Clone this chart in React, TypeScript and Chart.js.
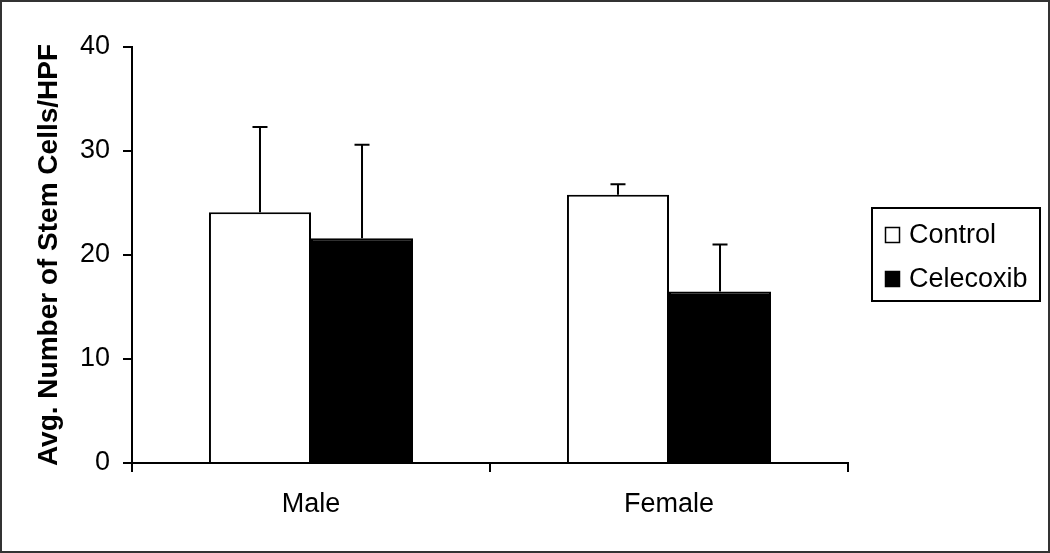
import React, { useEffect, useRef } from "react";
import { Chart, registerables } from "chart.js";

Chart.register(...registerables);

const categories = ["Male", "Female"];
const seriesNames = ["Control", "Celecoxib"];
const controlValues = [24.1, 25.8];
const celecoxibValues = [21.6, 16.5];
const controlErrors = [8.2, 1.0];
const celecoxibErrors = [9.0, 4.5];
const yTicks = [0, 10, 20, 30, 40];
const yTitle = "Avg. Number of Stem Cells/HPF";

const FONT = "'Liberation Sans', Arial, Helvetica, sans-serif";
const errorSets = [controlErrors, celecoxibErrors];

const framePlugin = {
  id: "frame",
  beforeDraw(chart: any) {
    const { ctx, width, height } = chart;
    ctx.save();
    ctx.fillStyle = "#fff";
    ctx.fillRect(0, 0, width, height);
    ctx.restore();
  },
  afterDraw(chart: any) {
    const { ctx, width, height } = chart;
    ctx.save();
    ctx.strokeStyle = "#333";
    ctx.lineWidth = 2;
    ctx.strokeRect(1, 1, width - 2, height - 2);
    ctx.restore();
  },
};

const errorBarPlugin = {
  id: "errorBars",
  afterDatasetsDraw(chart: any) {
    const { ctx } = chart;
    const yScale = chart.scales.y;
    ctx.save();
    ctx.strokeStyle = "#000";
    ctx.lineWidth = 2;
    chart.data.datasets.forEach((ds: any, i: number) => {
      const meta = chart.getDatasetMeta(i);
      const errs = errorSets[i];
      meta.data.forEach((bar: any, j: number) => {
        const top = yScale.getPixelForValue(ds.data[j] + errs[j]);
        ctx.beginPath();
        ctx.moveTo(bar.x, bar.y);
        ctx.lineTo(bar.x, top);
        ctx.moveTo(bar.x - 7.5, top);
        ctx.lineTo(bar.x + 7.5, top);
        ctx.stroke();
      });
    });
    ctx.restore();
  },
};

const legendPlugin = {
  id: "boxLegend",
  afterDraw(chart: any) {
    const { ctx } = chart;
    ctx.save();
    ctx.strokeStyle = "#000";
    ctx.lineWidth = 2;
    ctx.strokeRect(872, 208, 168, 93);
    const rows = [235, 279];
    chart.data.datasets.forEach((ds: any, i: number) => {
      const cy = rows[i];
      ctx.fillStyle = ds.backgroundColor;
      ctx.fillRect(885, cy - 8, 15, 16);
      ctx.lineWidth = 1.5;
      ctx.strokeStyle = "#000";
      ctx.strokeRect(885.5, cy - 7.5, 14, 15);
      ctx.fillStyle = "#000";
      ctx.font = `27px ${FONT}`;
      ctx.textBaseline = "alphabetic";
      ctx.textAlign = "left";
      ctx.fillText(ds.label, 909, cy + 8);
    });
    ctx.restore();
  },
};

export default function App() {
  const ref = useRef<HTMLCanvasElement | null>(null);
  useEffect(() => {
    if (!ref.current) return;
    Chart.defaults.font.family = FONT;
    const chart = new Chart(ref.current, {
      type: "bar",
      data: {
        labels: categories,
        datasets: [
          {
            label: seriesNames[0],
            data: controlValues,
            backgroundColor: "#ffffff",
            borderColor: "#000000",
            borderWidth: 2,
          },
          {
            label: seriesNames[1],
            data: celecoxibValues,
            backgroundColor: "#000000",
            borderColor: "#000000",
            borderWidth: 2,
          },
        ],
      },
      options: {
        responsive: false,
        animation: false,
        events: [],
        datasets: { bar: { barPercentage: 1, categoryPercentage: 0.57 } },
        layout: { padding: { left: 0, top: 47, right: 202, bottom: 0 } },
        plugins: {
          legend: { display: false },
          tooltip: { enabled: false },
        },
        scales: {
          x: {
            offset: true,
            grid: {
              offset: true,
              drawOnChartArea: false,
              drawTicks: true,
              tickLength: 9,
              color: "#000",
              lineWidth: 2,
            },
            border: { display: true, color: "#000", width: 2 },
            ticks: { color: "#000", font: { size: 27 }, padding: 16 },
            afterFit: (s: any) => {
              s.height = 90;
            },
          },
          y: {
            min: 0,
            max: 40,
            afterBuildTicks: (s: any) => {
              s.ticks = yTicks.map((v) => ({ value: v }));
            },
            grid: {
              drawOnChartArea: false,
              drawTicks: true,
              tickLength: 9,
              color: "#000",
              lineWidth: 2,
            },
            border: { display: true, color: "#000", width: 2 },
            ticks: { color: "#000", font: { size: 27 }, padding: 13 },
            title: {
              display: true,
              text: yTitle,
              color: "#000",
              font: { size: 28, weight: "bold" },
              padding: { top: 32, bottom: 0 },
            },
            afterFit: (s: any) => {
              s.width = 132;
            },
          },
        },
      },
      plugins: [framePlugin, errorBarPlugin, legendPlugin],
    });
    return () => chart.destroy();
  }, []);
  return (
    <div style={{ position: "fixed", left: 0, top: 0, width: 1050, height: 553 }}>
      <canvas ref={ref} width={1050} height={553} />
    </div>
  );
}
